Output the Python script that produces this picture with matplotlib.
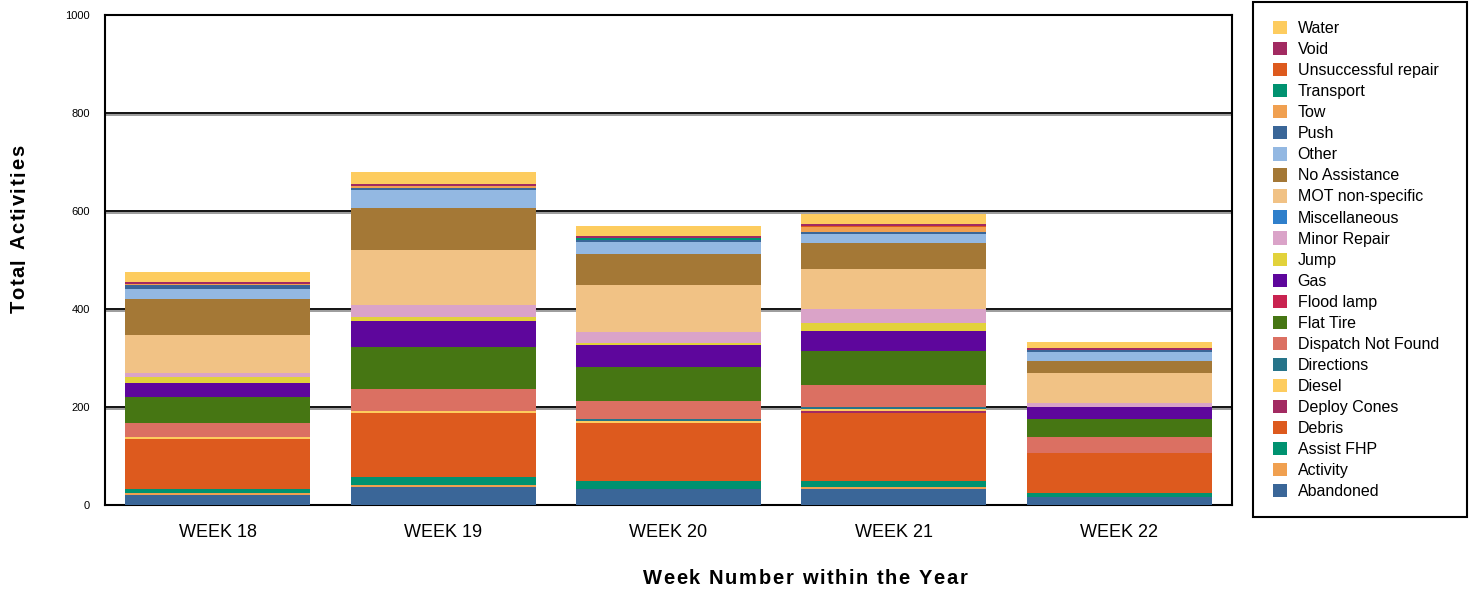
import matplotlib
matplotlib.use("Agg")
import matplotlib.pyplot as plt
import matplotlib.patheffects as pe
from matplotlib.patches import Patch, Rectangle
import numpy as np

plt.rcParams["font.family"] = ["Liberation Sans", "DejaVu Sans"]

# ===================================================
# Data (stack order bottom -> top)
# ===================================================

weeks = ["WEEK 18", "WEEK 19", "WEEK 20", "WEEK 21", "WEEK 22"]

categories = [
    "Abandoned", "Activity", "Assist FHP", "Debris", "Deploy Cones", "Diesel",
    "Directions", "Dispatch Not Found", "Flat Tire", "Flood lamp", "Gas", "Jump",
    "Minor Repair", "Miscellaneous", "MOT non-specific", "No Assistance", "Other",
    "Push", "Tow", "Transport", "Unsuccessful repair", "Void", "Water",
]

abandoned = [20, 37, 33, 33, 16]
activity = [4, 4, 0, 4, 0]
assist_fhp = [8, 16, 16, 12, 8]
debris = [102, 131, 118, 139, 82]
deploy_cones = [0, 0, 0, 4, 0]
diesel = [4, 4, 4, 4, 0]
directions = [0, 0, 4, 4, 0]
dispatch_not_found = [29, 45, 37, 45, 33]
flat_tire = [53, 86, 69, 69, 37]
flood_lamp = [0, 0, 0, 0, 0]
gas = [29, 53, 45, 41, 24]
jump = [12, 8, 4, 16, 0]
minor_repair = [8, 24, 24, 29, 8]
miscellaneous = [0, 0, 0, 0, 0]
mot_non_specific = [78, 112, 94, 82, 61]
no_assistance = [73, 86, 65, 53, 24]
other = [20, 37, 24, 18, 20]
push = [8, 4, 4, 4, 4]
tow = [4, 4, 0, 10, 0]
transport = [0, 0, 4, 0, 0]
unsuccessful_repair = [0, 0, 0, 2, 0]
void = [4, 4, 4, 4, 4]
water = [20, 24, 20, 20, 12]

series = [
    abandoned, activity, assist_fhp, debris, deploy_cones, diesel,
    directions, dispatch_not_found, flat_tire, flood_lamp, gas, jump,
    minor_repair, miscellaneous, mot_non_specific, no_assistance, other,
    push, tow, transport, unsuccessful_repair, void, water,
]

colors = [
    "#3a6698", "#f0a050", "#009270", "#dd5a1e", "#a22a61", "#fdcc5f",
    "#277489", "#db7062", "#467613", "#c92350", "#5e069c", "#e2d23b",
    "#daa3c8", "#2f7fcb", "#f1c285", "#a47836", "#93b8e2",
    "#3a6698", "#f0a050", "#009270", "#dd5a1e", "#a22a61", "#fdcc5f",
]

W, H = 1471, 590


def spaced_text(fig, cx, cy, s, size, spacing, vertical=False):
    """Draw bold text centred at pixel (cx, cy) with extra letter spacing (px)."""
    renderer = fig.canvas.get_renderer()

    def width(txt):
        t = fig.text(0, 0, txt, fontsize=size, fontweight="bold")
        w = t.get_window_extent(renderer).width
        t.remove()
        return w

    base = width("xx")
    adv = [width("x" + c + "x") - base for c in s]
    total = sum(adv) + spacing * (len(s) - 1)
    pos = -total / 2
    for c, a in zip(s, adv):
        if vertical:
            px, py, rot = cx, cy + pos, 90
        else:
            px, py, rot = cx + pos, cy, 0
        fig.text(px / W, 1 - py / H if not vertical else py / H, c, fontsize=size,
                 fontweight="bold", rotation=rot, rotation_mode="anchor",
                 ha="left", va="center")
        pos += a + spacing


# ===================================================
# Figure
# ===================================================

fig = plt.figure(figsize=(W / 100, H / 100), dpi=100)
ax = fig.add_axes([105 / W, 1 - 505 / H, 1127 / W, 490 / H])

x = np.arange(len(weeks))
bottom = np.zeros(len(weeks))
for vals, col in zip(series, colors):
    vals = np.array(vals, dtype=float)
    ax.bar(x, vals, bottom=bottom, width=0.82, color=col, linewidth=0, zorder=3)
    bottom += vals

# horizontal gridlines with a grey shadow
for yv in [200, 400, 600, 800]:
    ax.axhline(yv, color="black", linewidth=1.3, zorder=1,
               path_effects=[pe.SimpleLineShadow(offset=(0, -1.2), shadow_color="#888888", alpha=0.9),
                             pe.Normal()])

ax.set_xlim(-0.5, len(weeks) - 0.5)
ax.set_ylim(0, 1000)
ax.set_yticks([0, 200, 400, 600, 800, 1000])
ax.tick_params(axis="y", length=0, labelsize=8, pad=11)
ax.tick_params(axis="x", length=0, labelsize=13, pad=14)
ax.set_xticks(x)
ax.set_xticklabels(weeks)

for sp in ax.spines.values():
    sp.set_linewidth(1.5)
    sp.set_color("black")

# axis titles (letter-spaced, as in the original)
spaced_text(fig, 805, 578, "Week Number within the Year", 14.5, 1.6)
spaced_text(fig, 19, 590 - 229, "Total Activities", 14.5, 1.7, vertical=True)

# legend (top entry = top of stack)
handles = [Patch(facecolor=c, edgecolor="none") for c in colors][::-1]
labels = categories[::-1]
fig.legend(handles, labels, loc="upper left", bbox_to_anchor=(1253 / W, 1 - 1 / H),
           fontsize=11.5, frameon=False,
           handlelength=0.9, handleheight=0.9, handletextpad=0.65,
           labelspacing=0.37, borderpad=1.25, borderaxespad=0)
fig.add_artist(Rectangle((1253 / W, 1 - 517 / H), 214 / W, 515 / H,
                         transform=fig.transFigure, fill=False,
                         edgecolor="black", linewidth=1.5))

fig.savefig("out.png", dpi=100)
